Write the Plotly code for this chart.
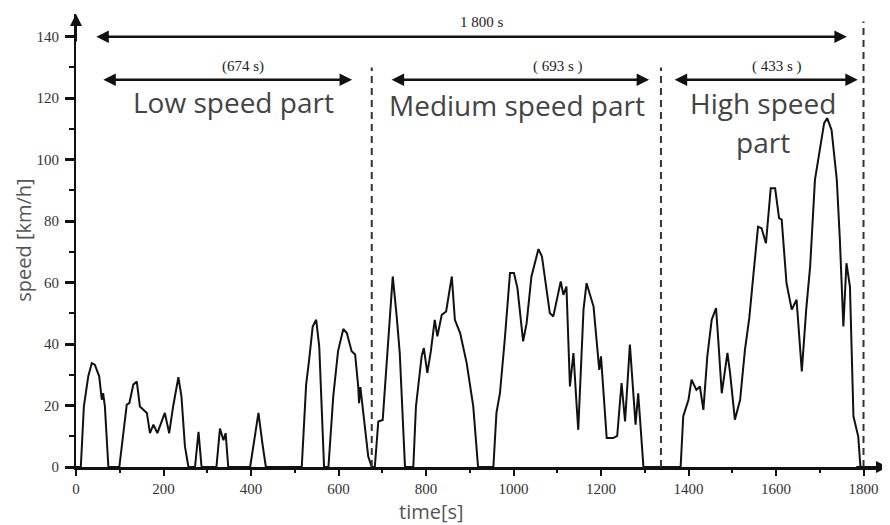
import plotly.graph_objects as go

# ---- data ----
low_t = [0, 11, 18, 28, 36, 43, 53, 59, 62, 66, 74, 99, 116, 122, 131, 139, 146, 155, 162, 169,
         177, 186, 193, 203, 213, 222, 234, 241, 249, 257, 272, 280, 287, 321, 329, 337, 342, 348, 398, 417,
         427, 434, 516, 526, 533, 541, 549, 556, 567, 577, 588, 599, 611, 619, 630, 638, 645, 647, 650, 668, 676]
low_v = [0, 0, 19.7, 29.5, 33.8, 33.3, 29.5, 21.9, 24, 19.7, 0, 0, 20.3, 20.8, 26.8, 27.8, 19.7, 18.6, 17.6, 11,
         13.8, 11, 13.8, 17.6, 11, 19.7, 29.2, 23, 6.7, 0, 0, 11.4, 0, 0, 12.5, 8.7, 11, 0, 0, 17.6,
         6.7, 0, 0, 26.8, 35, 45.7, 47.9, 39.2, 0, 0, 23, 37.7, 44.9, 43.6, 37.7, 36.6, 26.3, 20.8, 26, 3.4, 0]

mid_t = [683, 691, 701, 709, 724, 733, 740, 752, 771, 777, 790, 795, 803, 811, 820, 826, 836, 846, 859, 866,
         878, 893, 908, 919, 954, 961, 969, 980, 992, 1001, 1009, 1022, 1030, 1041, 1057, 1065, 1076, 1083, 1091, 1099,
         1108, 1114, 1121, 1129, 1137, 1144, 1148, 1160, 1167, 1183, 1196, 1200, 1213, 1228, 1237, 1247, 1255, 1266, 1279, 1285, 1297]
mid_v = [0, 14.8, 15.3, 31.6, 62, 49, 37.1, 0, 0, 19.7, 36, 38.7, 30.6, 37.6, 47.9, 42.5, 49.5, 50.6, 62, 47.9,
         43.6, 33.8, 19.7, 0, 0, 17.6, 24, 41.4, 63.1, 63.1, 58.2, 40.9, 46.8, 62, 70.9, 68.5, 57.7, 50.1, 49, 54.4,
         60.4, 56, 58.7, 26.2, 37.1, 20.8, 12.1, 51.2, 59.8, 52.2, 31.6, 36, 9.4, 9.4, 10.1, 27.3, 14.8, 39.8, 13.8, 24, 0]

high_t = [1382, 1388, 1400, 1407, 1418, 1426, 1434, 1443, 1453, 1463, 1468, 1476, 1489, 1495, 1506, 1518, 1529, 1539, 1548, 1559,
          1567, 1577, 1588, 1598, 1607, 1613, 1624, 1636, 1647, 1659, 1669, 1678, 1689, 1700, 1710, 1717, 1727, 1739, 1746, 1754,
          1761, 1769, 1777, 1788, 1793, 1800]
high_v = [0, 16.5, 21.9, 28.4, 25.1, 26.2, 18.6, 36, 47.9, 51.7, 41.4, 24, 37.1, 30.6, 15.4, 21.9, 38.1, 48.5, 62, 78.2,
          77.7, 72.8, 90.7, 90.7, 81, 80.5, 59.8, 51.2, 54.4, 31.1, 51.2, 65.2, 93.4, 103.2, 111.9, 113.5, 109.7, 93.4, 73.9, 45.7,
          66.3, 58.7, 16.5, 9.9, 0, 0]

# segment boundaries (dashed lines) and their top heights
bound_x = [676, 1337, 1800]
bound_top = [130, 130, 145]

# segment arrows: start, end
seg_start = [59, 718, 1365]
seg_end = [631, 1310, 1787]
seg_y = 126
seg_dur = ["(674 s)", "( 693 s )", "( 433 s )"]
seg_dur_x = [382, 1102, 1602]

total_start, total_end, total_y = 43, 1762, 140
total_label = "1 800 s"

x_ticks = [0, 200, 400, 600, 800, 1000, 1200, 1400, 1600, 1800]
y_ticks = [0, 20, 40, 60, 80, 100, 120, 140]

t = low_t + mid_t + high_t
v = low_v + mid_v + high_v

fig = go.Figure()
fig.add_trace(go.Scatter(x=t, y=v, mode="lines", line=dict(color="#111111", width=2),
                         showlegend=False, hoverinfo="skip"))

tickfont_y = dict(family="Liberation Serif, serif", size=15, color="#333333")
tickfont_x = dict(family="Liberation Serif, serif", size=15, color="#333333")

# the page body adds an 8px offset; figure size/margins compensate so the plot area sits where the reference has it
fig.update_layout(
    width=882, height=517,
    margin=dict(l=68, r=2, t=6, b=58),
    paper_bgcolor="white", plot_bgcolor="white",
    xaxis=dict(range=[0, 1856], automargin=False, showgrid=False, zeroline=False, showline=True, linecolor="#111",
               linewidth=3, ticks="outside", ticklen=6, tickwidth=2, tickcolor="#111",
               tickvals=x_ticks, tickfont=tickfont_x,
               minor=dict(dtick=100, tick0=0, ticks="outside", ticklen=3, tickwidth=1.5, tickcolor="#111")),
    yaxis=dict(range=[0, 147.4], automargin=False, showgrid=False, zeroline=False, showline=True, linecolor="#111",
               linewidth=2, ticks="outside", ticklen=9, tickwidth=2.5, tickcolor="#111",
               tickvals=y_ticks, tickfont=tickfont_y, ticklabelstandoff=3,
               minor=dict(dtick=10, tick0=0, ticks="outside", ticklen=5, tickwidth=2, tickcolor="#111")),
)

# axis arrows
fig.add_annotation(x=0, y=147.4, ax=0, ay=138, xref="x", yref="y", axref="x", ayref="y",
                   showarrow=True, arrowhead=2, arrowsize=1.2, arrowwidth=2, arrowcolor="#111", text="")
fig.add_annotation(x=1856, y=0, ax=1780, ay=0, xref="x", yref="y", axref="x", ayref="y",
                   showarrow=True, arrowhead=2, arrowsize=1.2, arrowwidth=2, arrowcolor="#111", text="")

# dashed boundaries
for bx, bt in zip(bound_x, bound_top):
    fig.add_shape(type="line", x0=bx, x1=bx, y0=0, y1=bt, xref="x", yref="y",
                  line=dict(color="#333", width=2, dash="7px,5px"))

# total arrow
fig.add_annotation(x=total_end, y=total_y, ax=total_start, ay=total_y, xref="x", yref="y",
                   axref="x", ayref="y", showarrow=True, arrowhead=2, arrowside="end+start",
                   arrowsize=1.0, arrowwidth=2.5, arrowcolor="#111", text="")
fig.add_annotation(x=928, y=144.8, xref="x", yref="y", text=total_label, showarrow=False,
                   font=dict(family="Liberation Serif, serif", size=15, color="#222"))

# segment arrows
for s, e, d, dx in zip(seg_start, seg_end, seg_dur, seg_dur_x):
    fig.add_annotation(x=e, y=seg_y, ax=s, ay=seg_y, xref="x", yref="y", axref="x", ayref="y",
                       showarrow=True, arrowhead=2, arrowside="end+start", arrowsize=1.0,
                       arrowwidth=2.5, arrowcolor="#111", text="")
    fig.add_annotation(x=dx, y=130.2, xref="x", yref="y", text=d, showarrow=False,
                       font=dict(family="Liberation Serif, serif", size=15, color="#222"))

bigfont = dict(family="Open Sans, sans-serif", size=28, color="#444")
seg_names = ["Low speed part", "Medium speed part", "High speed", "part"]
seg_name_x = [359, 1008, 1570, 1570]
seg_name_y = [118.8, 117.8, 118.4, 105.8]
for n, nx, ny in zip(seg_names, seg_name_x, seg_name_y):
    fig.add_annotation(x=nx, y=ny, xref="x", yref="y", text=n, showarrow=False, font=bigfont)

# axis titles
fig.add_annotation(x=-0.065, y=0.5, xref="paper", yref="paper", xanchor="center", yanchor="middle",
                   text="speed [km/h]", textangle=-90, showarrow=False,
                   font=dict(family="Open Sans, sans-serif", size=20, color="#555"))
fig.add_annotation(x=0.438, y=-0.099, xref="paper", yref="paper", xanchor="center", yanchor="middle",
                   text="time[s]", showarrow=False,
                   font=dict(family="Open Sans, sans-serif", size=20, color="#555"))

fig.write_html("out.html")
